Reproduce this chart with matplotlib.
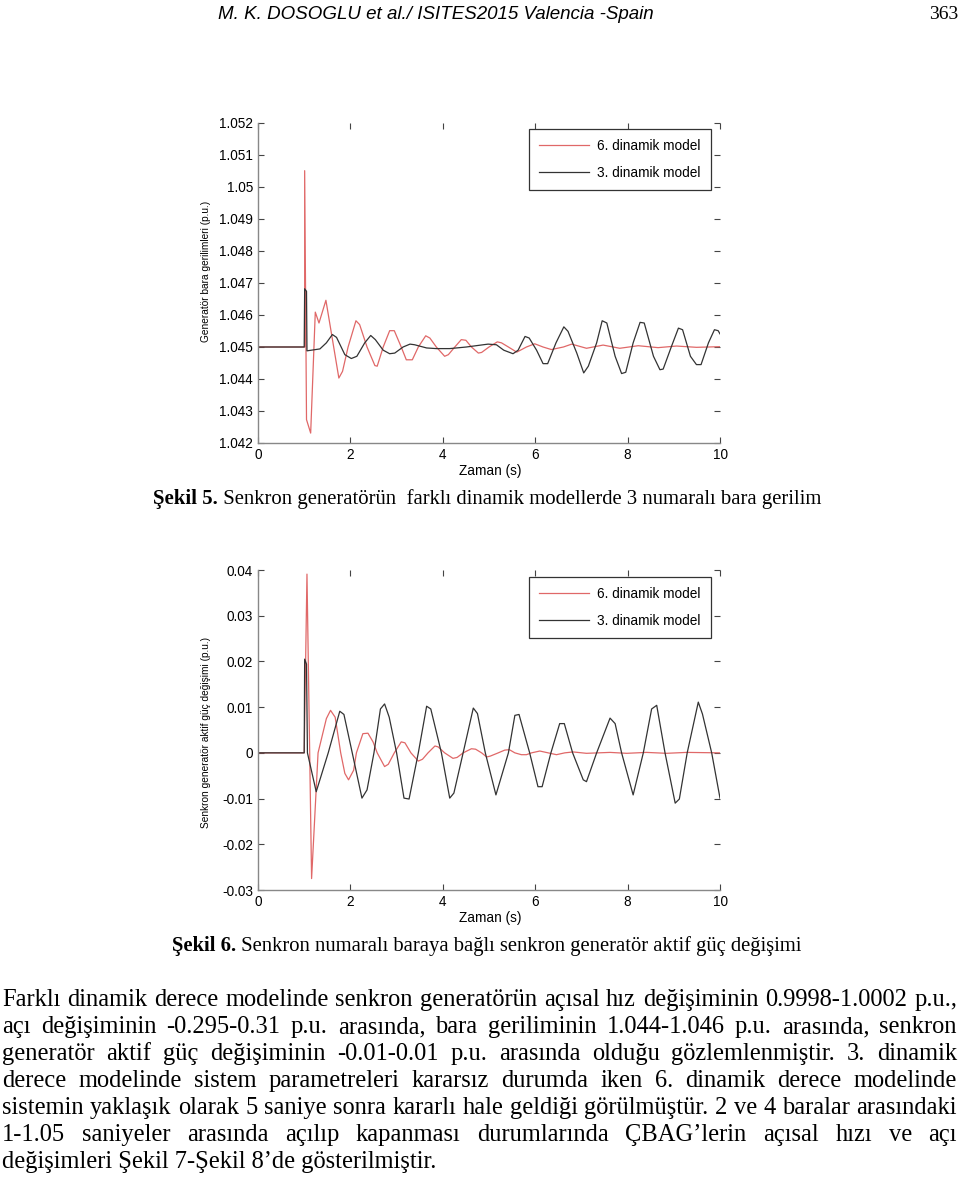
import matplotlib
matplotlib.use("Agg")
import matplotlib.pyplot as plt

# --- data ---
x_ticks = [0, 2, 4, 6, 8, 10]

v_ticks = [1.042, 1.043, 1.044, 1.045, 1.046, 1.047, 1.048, 1.049, 1.05, 1.051, 1.052]
v_labels = ["1.042", "1.043", "1.044", "1.045", "1.046", "1.047", "1.048", "1.049", "1.05", "1.051", "1.052"]

p_ticks = [-0.03, -0.02, -0.01, 0, 0.01, 0.02, 0.03, 0.04]
p_labels = ["-0.03", "-0.02", "-0.01", "0", "0.01", "0.02", "0.03", "0.04"]

# Sekil 5 - bus voltage
v6_t = [0, 1.00, 1.01, 1.01, 1.05, 1.14, 1.24, 1.32, 1.47, 1.75, 1.83, 1.95, 2.12, 2.20, 2.36, 2.53, 2.58,
        2.71, 2.85, 2.95, 3.10, 3.21, 3.34, 3.47, 3.63, 3.72, 3.86, 4.04, 4.12, 4.26, 4.40, 4.50, 4.62,
        4.77, 4.84, 5.00, 5.18, 5.27, 5.42, 5.60, 5.68, 5.81, 5.99, 6.17, 6.35, 6.61, 6.79, 7.11, 7.47,
        7.83, 8.23, 8.66, 9.06, 9.49, 10.0]
v6 = [1.045, 1.045, 1.045, 1.05051, 1.04273, 1.04231, 1.04609, 1.04575, 1.04646, 1.04403, 1.04424,
      1.04500, 1.04582, 1.04570, 1.04500, 1.04442, 1.04440, 1.04500, 1.04551, 1.04551, 1.04500, 1.04460,
      1.04460, 1.04500, 1.04535, 1.04528, 1.04500, 1.04471, 1.04476, 1.04500, 1.04523, 1.04521, 1.04500,
      1.04481, 1.04483, 1.04500, 1.04516, 1.04513, 1.04500, 1.04484, 1.04490, 1.04500, 1.04510, 1.04500,
      1.04492, 1.04500, 1.04509, 1.04496, 1.04506, 1.04496, 1.04504, 1.04498, 1.04503, 1.04499, 1.04501]

v3_t = [0, 1.00, 1.01, 1.05, 1.06, 1.34, 1.48, 1.61, 1.70, 1.88, 2.02, 2.14, 2.31, 2.44, 2.54, 2.71, 2.85,
        2.96, 3.14, 3.29, 3.39, 3.65, 3.86, 4.15, 4.51, 4.98, 5.16, 5.32, 5.52, 5.63, 5.78, 5.87, 6.03,
        6.17, 6.27, 6.45, 6.62, 6.71, 6.90, 7.05, 7.15, 7.33, 7.45, 7.55, 7.73, 7.87, 7.96, 8.12, 8.27,
        8.36, 8.56, 8.70, 8.77, 8.95, 9.10, 9.19, 9.36, 9.49, 9.59, 9.75, 9.88, 9.96, 10.0]
v3 = [1.045, 1.045, 1.04682, 1.04674, 1.04488, 1.04494, 1.04513, 1.04539, 1.04530, 1.04476, 1.04464,
      1.04471, 1.04513, 1.04536, 1.04523, 1.04490, 1.04479, 1.04481, 1.04500, 1.04509, 1.04507, 1.04497,
      1.04495, 1.04495, 1.04500, 1.04509, 1.04507, 1.04490, 1.04479, 1.04490, 1.04533, 1.04528, 1.04490,
      1.04448, 1.04448, 1.04513, 1.04563, 1.04549, 1.04481, 1.04419, 1.04440, 1.04513, 1.04582, 1.04575,
      1.04471, 1.04417, 1.04421, 1.04513, 1.04577, 1.04575, 1.04471, 1.04429, 1.04431, 1.04502, 1.04559,
      1.04554, 1.04471, 1.04445, 1.04445, 1.04513, 1.04554, 1.04551, 1.04541]

# Sekil 6 - active power change
p6_t = [0, 1.00, 1.06, 1.16, 1.30, 1.48, 1.57, 1.67, 1.79, 1.88, 1.96, 2.07, 2.13, 2.27, 2.38, 2.49, 2.58,
        2.74, 2.82, 2.95, 3.10, 3.18, 3.31, 3.47, 3.56, 3.68, 3.83, 3.90, 4.04, 4.22, 4.31, 4.44, 4.62,
        4.71, 4.84, 4.95, 5.03, 5.20, 5.34, 5.44, 5.56, 5.70, 5.81, 5.92, 6.10, 6.28, 6.46, 6.64, 6.82,
        7.11, 7.62, 7.98, 8.41, 8.84, 9.28, 10.0]
p6 = [0, 0, 0.0391, -0.0275, 0.0, 0.0075, 0.0093, 0.0078, 0.0, -0.0045, -0.0059, -0.0038, 0.0, 0.0042,
      0.0043, 0.0024, 0.0, -0.0030, -0.0025, 0.0, 0.0024, 0.0022, 0.0, -0.0018, -0.0014, 0.0, 0.0015,
      0.0013, 0.0, -0.0012, -0.0010, 0.0, 0.0009, 0.0008, 0.0, -0.0009, -0.0007, 0.0, 0.0006, 0.0007, 0.0,
      -0.0004, -0.0004, 0.0, 0.0004, 0.0, -0.0004, 0.0, 0.0002, -0.0001, 0.0001, -0.0001, 0.0001, -0.0001,
      0.0001, 0.0]

p3_t = [0, 1.00, 1.01, 1.05, 1.07, 1.26, 1.52, 1.77, 1.86, 2.04, 2.25, 2.36, 2.51, 2.65, 2.74, 2.84, 3.00,
        3.16, 3.27, 3.47, 3.65, 3.74, 3.97, 4.15, 4.24, 4.44, 4.66, 4.75, 4.92, 5.15, 5.42, 5.56, 5.65,
        5.88, 6.06, 6.15, 6.34, 6.53, 6.63, 6.81, 7.04, 7.11, 7.33, 7.62, 7.73, 7.87, 8.12, 8.34, 8.52,
        8.63, 8.81, 9.03, 9.12, 9.29, 9.53, 9.62, 9.82, 10.0]
p3 = [0, 0, 0.0205, 0.0194, 0.0, -0.0085, 0.0, 0.0091, 0.0084, 0.0, -0.0099, -0.0081, 0.0, 0.0096,
      0.0107, 0.0078, 0.0, -0.0099, -0.0101, 0.0, 0.0102, 0.0096, 0.0, -0.0099, -0.0088, 0.0, 0.0098,
      0.0086, 0.0, -0.0092, 0.0, 0.0082, 0.0084, 0.0, -0.0074, -0.0074, 0.0, 0.0064, 0.0064, 0.0,
      -0.0059, -0.0063, 0.0, 0.0076, 0.0064, 0.0, -0.0092, 0.0, 0.0096, 0.0104, 0.0, -0.0110, -0.0101,
      0.0, 0.0111, 0.0085, 0.0, -0.0099]

legend_labels = ["6. dinamik model", "3. dinamik model"]

paragraph = [
    "Farklı dinamik derece modelinde senkron generatörün açısal hız değişiminin 0.9998-1.0002 p.u.,",
    "açı değişiminin -0.295-0.31 p.u. arasında, bara geriliminin 1.044-1.046 p.u. arasında, senkron",
    "generatör aktif güç değişiminin -0.01-0.01 p.u. arasında olduğu gözlemlenmiştir. 3. dinamik",
    "derece modelinde sistem parametreleri kararsız durumda iken 6. dinamik derece modelinde",
    "sistemin yaklaşık olarak 5 saniye sonra kararlı hale geldiği görülmüştür. 2 ve 4 baralar arasındaki",
    "1-1.05 saniyeler arasında açılıp kapanması durumlarında ÇBAG’lerin açısal hızı ve açı",
    "değişimleri Şekil 7-Şekil 8’de gösterilmiştir.",
]

W, H = 960, 1183
fig = plt.figure(figsize=(W / 100, H / 100), dpi=100)
renderer = fig.canvas.get_renderer()


def fx(x):
    return x / W


def fy(y):
    return 1 - y / H


def width_px(t):
    return t.get_window_extent(renderer).width


RED = "#e06868"
BLACK = "#333333"
sans = "Liberation Sans"
serif = "Liberation Serif"


def make_axes(top, ticks, labels, ylabel, ylabel_y):
    ax = fig.add_axes([fx(258), fy(top + 320), 462 / W, 320 / H])
    ax.set_xlim(0, 10)
    ax.set_ylim(ticks[0], ticks[-1])
    ax.set_xticks(x_ticks)
    ax.set_xticklabels([str(v) for v in x_ticks], fontfamily=sans)
    ax.set_yticks(ticks)
    ax.set_yticklabels(labels, fontfamily=sans)
    ax.tick_params(direction="in", length=4, width=0.8, color="#444444",
                   top=True, right=True, labelsize=9.8, pad=3.5)
    for s in ["top", "right"]:
        ax.spines[s].set_visible(False)
    for s in ["left", "bottom"]:
        ax.spines[s].set_color("#888888")
        ax.spines[s].set_linewidth(1.0)
    fig.text(fx(490), fy(top + 348), "Zaman (s)", ha="center", va="center",
             fontsize=9.8, family=sans)
    fig.text(fx(206), fy(ylabel_y), ylabel, rotation=90, ha="center", va="center",
             fontsize=7.3, family=sans)
    return ax


def add_legend(ax, top_px, axes_top):
    leg = ax.legend(legend_labels, loc="upper right",
                    bbox_to_anchor=((711 - 258) / 462, 1 - (top_px - axes_top) / 320),
                    borderaxespad=0, fancybox=False, framealpha=1, edgecolor="#333333",
                    prop={"family": sans, "size": 9.8}, handlelength=3.7,
                    labelspacing=0.95, borderpad=0.75, handletextpad=0.6)
    leg.get_frame().set_linewidth(0.9)


ax1 = make_axes(123, v_ticks, v_labels, "Generatör bara gerilimleri (p.u.)", 271)
ax1.plot(v6_t, v6, color=RED, lw=0.9)
ax1.plot(v3_t, v3, color=BLACK, lw=0.9)
add_legend(ax1, 129, 123)

ax2 = make_axes(570, p_ticks, p_labels, "Senkron generatör aktif güç değişimi (p.u.)", 732)
ax2.plot(p6_t, p6, color=RED, lw=0.9)
ax2.plot(p3_t, p3, color=BLACK, lw=0.9)
add_legend(ax2, 577, 570)

# header
fig.text(fx(218), fy(19), "M. K. DOSOGLU et al./ ISITES2015 Valencia -Spain", ha="left",
         va="baseline", fontsize=13.5, style="italic",
         family=["Liberation Sans Narrow", "Liberation Sans"])
fig.text(fx(958), fy(19), "363", ha="right", va="baseline", fontsize=14, family=serif)


def caption(bold, rest, x0, x1, base):
    size = 14
    b = fig.text(fx(x0), fy(base), bold, ha="left", va="baseline", fontsize=size,
                 weight="bold", family=serif)
    r = fig.text(0, fy(base), rest, ha="left", va="baseline", fontsize=size, family=serif)
    w = width_px(b) + width_px(r)
    size = size * (x1 - x0) / w
    b.set_fontsize(size)
    r.set_fontsize(size)
    r.set_x(fx(x0 + width_px(b)))


caption("Şekil 5.", " Senkron generatörün  farklı dinamik modellerde 3 numaralı bara gerilim",
        153, 825, 504)
caption("Şekil 6.", " Senkron numaralı baraya bağlı senkron generatör aktif güç değişimi",
        172, 806, 951)

# justified paragraph
left, right = 2, 957
probe = fig.text(0, 0, paragraph[0], fontsize=15, family=serif)
psize = 15 * (right - left) / width_px(probe)
probe.remove()

for i, line in enumerate(paragraph):
    base = 1006 + i * 27
    if i == len(paragraph) - 1:
        fig.text(fx(left), fy(base), line, ha="left", va="baseline", fontsize=psize, family=serif)
        continue
    words = line.split(" ")
    texts = [fig.text(0, fy(base), w, ha="left", va="baseline", fontsize=psize, family=serif)
             for w in words]
    widths = [width_px(t) for t in texts]
    gap = (right - left - sum(widths)) / (len(words) - 1)
    x = left
    for t, w in zip(texts, widths):
        t.set_x(fx(x))
        x += w + gap

fig.savefig("out.png", dpi=100)
